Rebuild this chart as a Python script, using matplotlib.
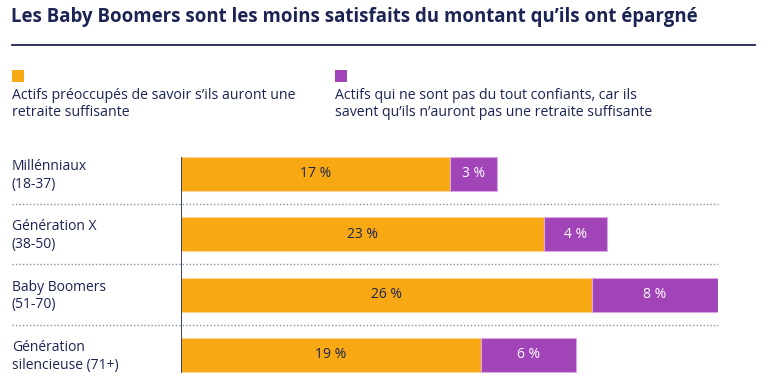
import matplotlib.pyplot as plt
import matplotlib.transforms as mtransforms
from matplotlib.patches import Rectangle

plt.rcParams['font.family'] = ['Open Sans', 'DejaVu Sans']

title = "Les Baby Boomers sont les moins satisfaits du montant qu\u2019ils ont épargné"
categories = ["Millénniaux\n(18-37)", "Génération X\n(38-50)", "Baby Boomers\n(51-70)", "Génération\nsilencieuse (71+)"]
worried = [17, 23, 26, 19]
not_confident = [3, 4, 8, 6]
legend_labels = ["Actifs préoccupés de savoir s\u2019ils auront une\nretraite suffisante",
                 "Actifs qui ne sont pas du tout confiants, car ils\nsavent qu\u2019ils n\u2019auront pas une retraite suffisante"]

ORANGE = "#F7A812"
PURPLE = "#A044B8"
NAVY = "#1B2452"
W, H = 770, 387

fig = plt.figure(figsize=(W / 100, H / 100), dpi=100)

def fx(px):
    return px / W

def fy(py):
    return 1 - py / H

# title and rule
fig.text(fx(11), fy(17), title, fontsize=13.4, fontweight='bold', color=NAVY, va='center', ha='left')
fig.add_artist(plt.Line2D([fx(12), fx(755)], [fy(45), fy(45)], color=NAVY, lw=1.3))

# legend
for x0, col, lab in [(12, ORANGE, legend_labels[0]), (335, PURPLE, legend_labels[1])]:
    fig.add_artist(Rectangle((fx(x0), fy(82)), 12 / W, 12 / H, transform=fig.transFigure,
                             facecolor=col, edgecolor='none'))
    fig.text(fx(x0), fy(104), lab, fontsize=10.2, color=NAVY, va='center', ha='left', linespacing=1.25)

# axes: x 0..34 -> px 181..718 ; rows centered at 174 + 60.3*i
x_left, x_right = 181, 718
xmax = 34
ypix_top, ypix_bot = 144, 385
row0, step = 174, 60.3
ylo = (ypix_top - row0) / step
yhi = (ypix_bot - row0) / step
ax = fig.add_axes([fx(x_left), fy(ypix_bot), (x_right - x_left) / W, (ypix_bot - ypix_top) / H])
ax.set_xlim(0, xmax)
ax.set_ylim(yhi, ylo)
ax.axis('off')

ys = list(range(len(categories)))
bh = 34 / step
ax.barh(ys, worried, height=bh, color=ORANGE, edgecolor='#FBD89A', linewidth=0.8)
ax.barh(ys, not_confident, left=worried, height=bh, color=PURPLE, edgecolor='#D9A8E4', linewidth=0.8)

for y, a, b, cat in zip(ys, worried, not_confident, categories):
    ax.text(a / 2, y, f"{a} %", ha='center', va='center', fontsize=10, color=NAVY)
    ax.text(a + b / 2, y, f"{b} %", ha='center', va='center', fontsize=10, color='white')
    fig.text(fx(12), fig.transFigure.inverted().transform(ax.transData.transform((0, y)))[1] - 1.5 / H,
             cat, fontsize=10.0, color=NAVY, va='center', ha='left', linespacing=1.25)

# vertical axis line
ax.vlines(0, (157 - row0) / step, (373 - row0) / step, color=NAVY, lw=1.2)

# dotted separators
trans = mtransforms.blended_transform_factory(fig.transFigure, ax.transData)
for y in [0.5, 1.5, 2.5]:
    ax.plot([fx(12), fx(718)], [y, y], transform=trans, clip_on=False,
            color='#8A90A8', lw=1.0, linestyle=(0, (1, 1.5)))

fig.savefig("out.png", dpi=100)
